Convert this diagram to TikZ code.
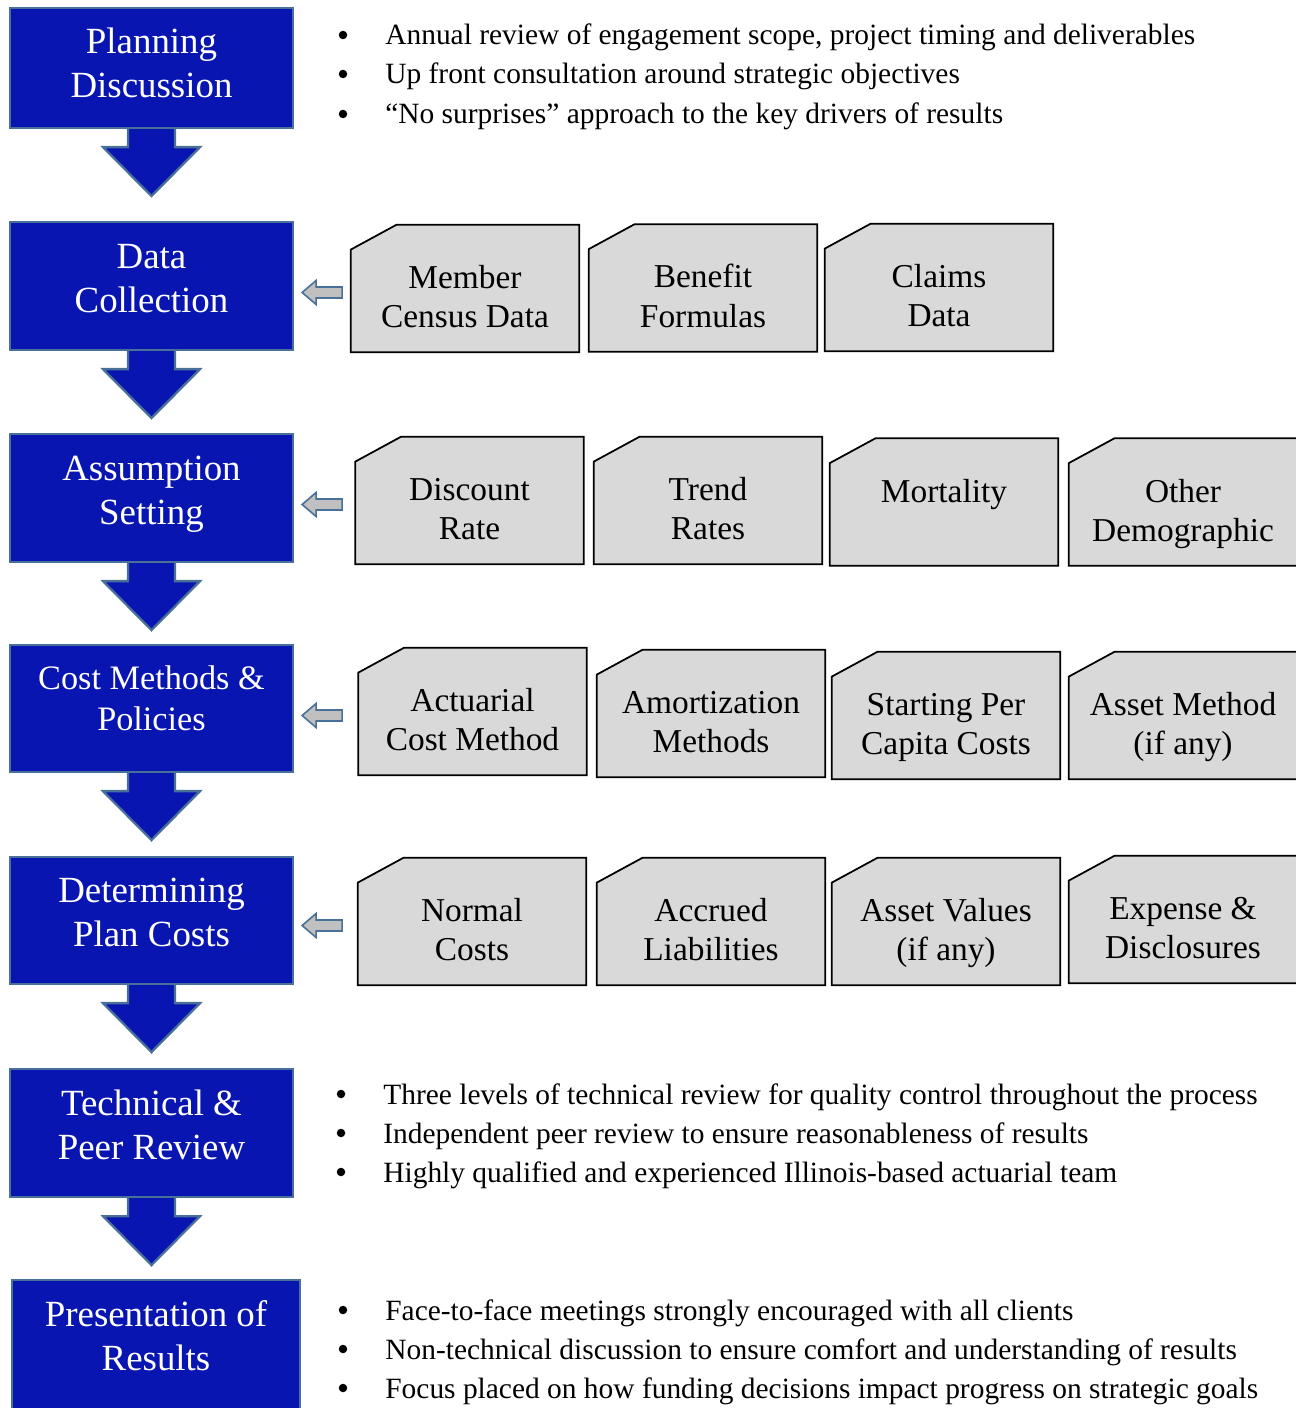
\documentclass[tikz,border=0pt]{standalone}
\usepackage{fontspec}
\setmainfont{Liberation Serif}
\usetikzlibrary{calc,backgrounds}

\definecolor{stepblue}{RGB}{9,21,176}
\definecolor{stepedge}{RGB}{72,112,152}
\definecolor{cardgray}{RGB}{217,217,217}
\definecolor{feedgray}{RGB}{192,192,192}

\tikzset{
  stage/.style={draw=stepedge, line width=1.3pt, fill=stepblue, text=white, align=center,
    minimum width=5.66cm, minimum height=2.56cm, inner sep=0pt,
    font=\fontsize{21}{25}\selectfont, text height=40pt, text depth=10pt},
  card/.style={align=center, minimum width=4.56cm, minimum height=2.54cm, inner sep=0pt,
    font=\fontsize{19}{22.2}\selectfont, text height=50pt, text depth=5.6pt},
  cardshape/.style={draw=black, line width=1pt, fill=cardgray},
  downshape/.style={draw=stepedge, line width=1.3pt, fill=stepblue},
  feedshape/.style={draw=stepedge, line width=0.9pt, fill=feedgray},
  point/.style={anchor=base west, inner sep=0pt, font=\fontsize{16.75}{20}\selectfont},
  dot/.style={circle, fill=black, inner sep=0pt, minimum size=0.17cm}
}

% block arrow below a stage
\newcommand{\stagearrow}[1]{
  \begin{pgfonlayer}{background}
  \filldraw[downshape] ($(#1.south)+(-23.5,-4)$) -- ($(#1.south)+(-23.5,18)$)
    -- ($(#1.south)+(-48.5,18)$) -- ($(#1.south)+(0,67)$) -- ($(#1.south)+(48.5,18)$)
    -- ($(#1.south)+(23.5,18)$) -- ($(#1.south)+(23.5,-4)$) -- cycle;
  \end{pgfonlayer}
}
% card outline with the snipped corner
\newcommand{\cardedge}[1]{
  \begin{pgfonlayer}{background}
  \filldraw[cardshape] (#1.south west) -- ($(#1.north west)+(0,25)$)
    -- ($(#1.north west)+(46,0)$) -- (#1.north east) -- (#1.south east) -- cycle;
  \end{pgfonlayer}
}
% small hollow arrow from a card row back to its stage
\newcommand{\feedarrow}[2]{
  \coordinate (#1tip) at ($(#2.east |- #1.west)+(8,4)$);
  \filldraw[feedshape] (#1tip) -- ++(14,-12) -- ++(0,6.5) -- ++(26,0) -- ++(0,11)
    -- ++(-26,0) -- ++(0,6.5) -- cycle;
}

\begin{document}
\begin{tikzpicture}[x=0.02cm,y=-0.02cm]
\clip (0,0) rectangle (1295,1408);

% stages
\node[stage, minimum height=2.4cm, text depth=6pt] (plan) at (151.5,68) {Planning\\Discussion};
\node[stage] (data) at (151.5,286) {Data\\Collection};
\node[stage] (assume) at (151.5,498) {Assumption\\Setting};
\node[stage, minimum height=2.54cm, font=\fontsize{19.5}{23.3}\selectfont, text depth=15pt] (cost) at (151.5,708.5) {Cost Methods \&\\Policies};
\node[stage, minimum height=2.54cm] (determine) at (151.5,920.5) {Determining\\Plan Costs};
\node[stage] (review) at (151.5,1133) {Technical \&\\Peer Review};
\node[stage, minimum width=5.76cm, minimum height=2.8cm, text depth=16.8pt] (present) at (156,1350) {Presentation of\\Results};

\stagearrow{plan}
\stagearrow{data}
\stagearrow{assume}
\stagearrow{cost}
\stagearrow{determine}
\stagearrow{review}

% data collection
\node[card] (member) at (465,288.5) {Member\\Census Data};
\node[card] (benefit) at (703,288) {Benefit\\Formulas};
\node[card] (claims) at (939,287.5) {Claims\\Data};
\cardedge{member}
\cardedge{benefit}
\cardedge{claims}
\feedarrow{member}{data}

% assumptions
\node[card] (discount) at (469.5,500.5) {Discount\\Rate};
\node[card] (trend) at (708,500.5) {Trend\\Rates};
\node[card, text height=15pt, text depth=15pt] (mortality) at (944,502) {Mortality};
\node[card] (other) at (1183,502) {Other\\Demographic};
\cardedge{discount}
\cardedge{trend}
\cardedge{mortality}
\cardedge{other}
\feedarrow{discount}{assume}

% cost methods
\node[card] (actuarial) at (472.5,711.5) {Actuarial\\Cost Method};
\node[card] (amortization) at (711,713.5) {Amortization\\Methods};
\node[card] (percapita) at (946,715.5) {Starting Per\\Capita Costs};
\node[card] (assetmethod) at (1183,715.5) {Asset Method\\(if any)};
\cardedge{actuarial}
\cardedge{amortization}
\cardedge{percapita}
\cardedge{assetmethod}
\feedarrow{actuarial}{cost}

% plan costs
\node[card] (normal) at (472,921.5) {Normal\\Costs};
\node[card] (accrued) at (711,921.5) {Accrued\\Liabilities};
\node[card] (assetvalues) at (946,921.5) {Asset Values\\(if any)};
\node[card] (expense) at (1183,919.5) {Expense \&\\Disclosures};
\cardedge{normal}
\cardedge{accrued}
\cardedge{assetvalues}
\cardedge{expense}
\feedarrow{normal}{determine}

% planning notes
\node[dot] (plandot1) at (343,35) {};
\node[point] (plan1) at (385,45) {Annual review of engagement scope, project timing and deliverables};
\node[dot] (plandot2) at (343,74) {};
\node[point] (plan2) at (385,84) {Up front consultation around strategic objectives};
\node[dot] (plandot3) at (343,114) {};
\node[point] (plan3) at (385,124) {“No surprises” approach to the key drivers of results};

% review notes
\node[dot] (reviewdot1) at (341,1094) {};
\node[point] (review1) at (383,1104) {Three levels of technical review for quality control throughout the process};
\node[dot] (reviewdot2) at (341,1133) {};
\node[point] (review2) at (383,1143) {Independent peer review to ensure reasonableness of results};
\node[dot] (reviewdot3) at (341,1172) {};
\node[point] (review3) at (383,1182) {Highly qualified and experienced Illinois-based actuarial team};

% presentation notes
\node[dot] (presentdot1) at (343,1310) {};
\node[point] (present1) at (385,1320) {Face-to-face meetings strongly encouraged with all clients};
\node[dot] (presentdot2) at (343,1349) {};
\node[point] (present2) at (385,1359) {Non-technical discussion to ensure comfort and understanding of results};
\node[dot] (presentdot3) at (343,1388) {};
\node[point] (present3) at (385,1398) {Focus placed on how funding decisions impact progress on strategic goals};
\end{tikzpicture}
\end{document}
